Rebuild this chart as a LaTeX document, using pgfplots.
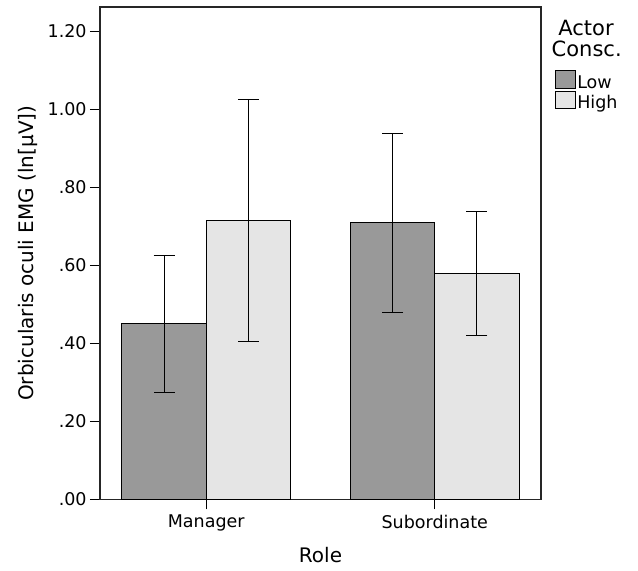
\documentclass[border=0pt]{standalone}
\usepackage{pgfplots}
\pgfplotsset{compat=1.18}
\usepackage{fontspec}
\setmainfont{DejaVu Sans}
\definecolor{lowc}{gray}{0.6}
\definecolor{highc}{gray}{0.9}
\begin{document}
\begin{tikzpicture}
\useasboundingbox (-50pt,-35.35pt) rectangle (269pt,249.7pt);
\begin{axis}[
 at={(0,0)}, anchor=south west,
 scale only axis, width=220.5pt, height=246.2pt,
 xmin=-0.465, xmax=1.465, ymin=0, ymax=1.262,
 axis line style={black!85, line width=0.6pt},
 xtick={0,1}, xticklabels={Manager,Subordinate},
 ytick={0,0.2,0.4,0.6,0.8,1.0,1.2},
 yticklabels={.00,.20,.40,.60,.80,1.00,1.20},
 xtick pos=bottom, ytick pos=left,
 tick align=outside,
 major tick length=5pt,
 tick style={black, line width=0.5pt},
 ticklabel style={font=\fontsize{8.75}{10}\selectfont},
 yticklabel style={inner sep=1.5pt},
 xticklabel style={inner sep=2.5pt},
 xlabel={Role}, ylabel={Orbicularis oculi EMG (ln[μV])},
 label style={font=\fontsize{10.5}{12}\selectfont},
 every axis x label/.style={at={(axis description cs:0.5,0)}, anchor=base, yshift=-31.7pt},
 every axis y label/.style={at={(axis description cs:0,0.5)}, xshift=-33.35pt, rotate=90, anchor=base},
 legend image code/.code={\draw[#1, draw=black, line width=0.5pt] (0pt,0pt) rectangle (10.3pt,8.75pt);},
 legend style={at={(rel axis cs:1,1)}, anchor=north west, xshift=6.65pt, yshift=-31.5pt,
   draw=none, fill=none, inner sep=0pt, row sep=0pt, column sep=0pt,
   font=\fontsize{8.75}{10}\selectfont,
   cells={anchor=base west},
   nodes={inner sep=0.5pt, text height=7.6pt, text depth=0.75pt}},
]
\addplot[ybar, bar width=0.369, bar shift=0pt, fill=lowc, draw=black, line width=0.5pt,
  error bars/.cd, y dir=both, y explicit,
  error bar style={black, line width=0.5pt},
  error mark options={rotate=90, mark size=5.25pt, black, line width=0.5pt}]
  coordinates {(-0.1845,0.450) +- (0,0.176) (0.8155,0.709) +- (0,0.2295)};
\addlegendentry{Low}
\addplot[ybar, bar width=0.369, bar shift=0pt, fill=highc, draw=black, line width=0.5pt,
  error bars/.cd, y dir=both, y explicit,
  error bar style={black, line width=0.5pt},
  error mark options={rotate=90, mark size=5.25pt, black, line width=0.5pt}]
  coordinates {(0.1845,0.715) +- (0,0.311) (1.1845,0.580) +- (0,0.159)};
\addlegendentry{High}
\end{axis}
\node[anchor=base, font=\fontsize{10.5}{12}\selectfont] at ([xshift=22.5pt,yshift=-14pt]current axis.north east) {Actor};
\node[anchor=base, font=\fontsize{10.5}{12}\selectfont] at ([xshift=22.85pt,yshift=-24.85pt]current axis.north east) {Consc.};
\end{tikzpicture}
\end{document}
